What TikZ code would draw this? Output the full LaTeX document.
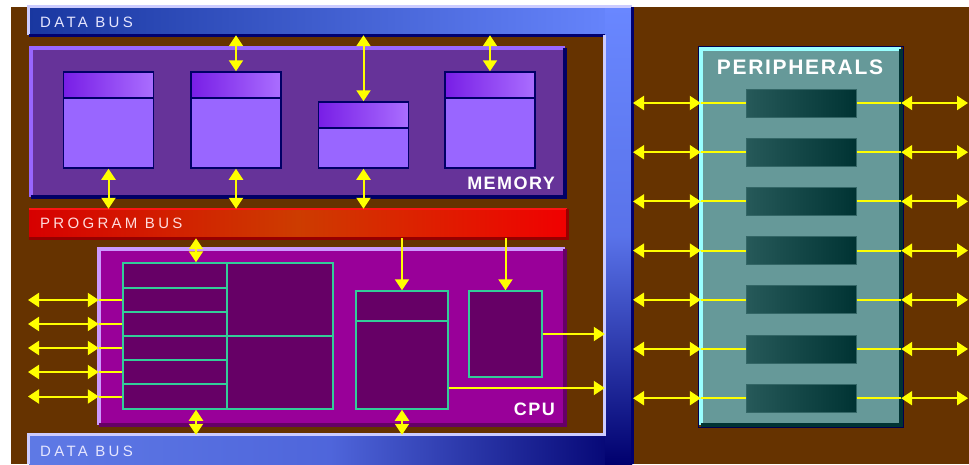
\documentclass[tikz,border=0pt]{standalone}
\usepackage{fontspec}
\setmainfont{Liberation Sans}
\newfontfamily\busfont[LetterSpace=22]{Liberation Sans}
\newfontfamily\tagfont[LetterSpace=8]{Liberation Sans}
\usepackage{tikz}
\usetikzlibrary{arrows.meta}
\definecolor{Brown}{RGB}{102,51,0}
\definecolor{BusDeep}{RGB}{25,55,160}
\definecolor{BusSky}{RGB}{105,135,255}
\definecolor{BusNavy}{RGB}{0,0,110}
\definecolor{BusLite}{RGB}{204,204,255}
\definecolor{BusText}{RGB}{230,230,255}
\definecolor{MemFill}{RGB}{102,51,153}
\definecolor{MemEdge}{RGB}{153,102,255}
\definecolor{MemNavy}{RGB}{0,0,102}
\definecolor{CellFill}{RGB}{153,102,255}
\definecolor{HeadDeep}{RGB}{120,30,230}
\definecolor{HeadPale}{RGB}{170,110,255}
\definecolor{ProgLeft}{RGB}{215,0,0}
\definecolor{ProgMid}{RGB}{205,60,0}
\definecolor{ProgRight}{RGB}{240,0,0}
\definecolor{ProgLite}{RGB}{255,20,20}
\definecolor{ProgShadow}{RGB}{150,0,0}
\definecolor{ProgText}{RGB}{255,220,220}
\definecolor{CpuFill}{RGB}{153,0,153}
\definecolor{CpuEdge}{RGB}{204,153,255}
\definecolor{CpuShadow}{RGB}{102,0,102}
\definecolor{BlkFill}{RGB}{102,0,102}
\definecolor{BlkEdge}{RGB}{51,204,153}
\definecolor{PerFill}{RGB}{102,153,153}
\definecolor{PerEdge}{RGB}{153,255,255}
\definecolor{PerShadow}{RGB}{0,51,51}
\definecolor{PerNavy}{RGB}{0,0,80}
\definecolor{SlotDark}{RGB}{0,51,51}
\definecolor{SlotLite}{RGB}{51,102,102}
\definecolor{SigYellow}{RGB}{255,255,0}

\begin{document}
\begin{tikzpicture}[x=1pt, y=-1pt,
    bus/.style={rectangle, inner sep=0pt, draw=none},
    panel/.style={rectangle, inner sep=0pt, draw=none},
    bevel/.style={line width=4pt},
    rim/.style={line width=3pt},
    cell/.style={rectangle, inner sep=0pt, draw=MemNavy, line width=1.5pt,
                 fill=CellFill, minimum width=90pt},
    cellhead/.style={rectangle, inner sep=0pt, draw=MemNavy, line width=1.5pt,
                     left color=HeadDeep, right color=HeadPale,
                     minimum width=90pt, minimum height=26pt},
    blk/.style={rectangle, inner sep=0pt, draw=BlkEdge, line width=1.5pt,
                fill=BlkFill},
    slot/.style={rectangle, inner sep=0pt, draw=SlotLite, line width=1pt,
                 left color=SlotLite!75!SlotDark, right color=SlotDark,
                 minimum width=110pt, minimum height=28pt},
    buslabel/.style={font=\busfont\fontsize{15}{15}\selectfont,
                     anchor=west, inner sep=0pt},
    tag/.style={font=\tagfont\bfseries\fontsize{18}{18}\selectfont,
                text=white, inner sep=0pt},
    yline/.style={line width=2pt, SigYellow},
    arr/.style={-{Triangle[length=11pt,width=14pt]}, yline},
    dblarr/.style={{Triangle[length=11pt,width=14pt]}-{Triangle[length=11pt,width=14pt]},
                   yline}
  ]
  \useasboundingbox (0,0) rectangle (969,464);
  \fill[white] (0,0) rectangle (969,464);
  \fill[Brown] (11,7) rectangle (969,464);

  % Data bus
  \node[bus, minimum width=603pt, minimum height=28pt,
        left color=BusDeep, right color=BusSky] (dbtop) at (330.5,21) {};
  \node[bus, minimum width=603pt, minimum height=29pt,
        left color=BusSky!90!black, right color=BusNavy,
        middle color=BusSky!75!BusNavy] (dbbot) at (330.5,449.5) {};
  \node[bus, minimum width=27pt, minimum height=457pt,
        top color=BusSky, bottom color=BusNavy,
        middle color=BusSky!85!BusNavy] (dbright) at (618.5,235.5) {};
  \draw[rim, BusLite] (dbtop.south west) -- (dbtop.north west) -- (dbtop.north east);
  \draw[rim, BusNavy] (dbtop.south west) -- (dbtop.south -| dbright.west);
  \draw[rim, BusLite] (dbright.west |- dbtop.south) -- (dbright.west |- dbbot.north)
        -- (dbbot.north west) -- (dbbot.south west);
  \draw[rim, BusNavy] (dbright.north east) -- (dbright.south east);
  \node[buslabel, text=BusText] (dbtext1) at (40,22.5) {DATA BUS};
  \node[buslabel, text=BusText] (dbtext2) at (40,451.5) {DATA BUS};

  % Memory
  \node[panel, fill=MemFill, minimum width=534pt, minimum height=149pt] (mem) at (298,122.5) {};
  \draw[bevel, MemEdge] (mem.south west) -- (mem.north west) -- (mem.north east);
  \draw[bevel, MemNavy] (mem.north east) -- (mem.south east) -- (mem.south west);
  \foreach \n/\x/\y/\h in {1/108.5/120/96pt, 2/236/120/96pt, 3/363.5/135/66pt, 4/490/120/96pt}{
    \node[cell, minimum height=\h] (m\n) at (\x,\y) {};
    \node[cellhead, anchor=north] (h\n) at (m\n.north) {};
  }
  \node[tag, anchor=east] (memtext) at (555,183.5) {MEMORY};

  % Program bus
  \node[bus, minimum width=538pt, minimum height=29pt,
        left color=ProgLeft, right color=ProgRight, middle color=ProgMid] (pbus) at (298,223.5) {};
  \draw[line width=2pt, ProgLite] (pbus.north west) -- (pbus.north east);
  \draw[rim, ProgShadow] (pbus.north east) -- (pbus.south east) -- (pbus.south west);
  \node[buslabel, text=ProgText] (pbtext) at (40,223.5) {PROGRAM BUS};

  % CPU
  \node[panel, fill=CpuFill, minimum width=466pt, minimum height=176pt] (cpu) at (332,337) {};
  \draw[bevel, CpuEdge] (cpu.south west) -- (cpu.north west) -- (cpu.north east);
  \draw[bevel, CpuShadow] (cpu.north east) -- (cpu.south east) -- (cpu.south west);
  \foreach \i/\y/\h in {1/275.5/25pt, 2/300/24pt, 3/324/24pt, 4/348/24pt, 5/372/24pt, 6/396.5/25pt}
    \node[blk, minimum width=104pt, minimum height=\h] (r\i) at (175,\y) {};
  \node[blk, minimum width=106pt, minimum height=73pt] (b1) at (280,299.5) {};
  \node[blk, minimum width=106pt, minimum height=73pt] (b2) at (280,372.5) {};
  \node[blk, minimum width=92pt, minimum height=30pt] (mt) at (402,306) {};
  \node[blk, minimum width=92pt, minimum height=88pt] (mb) at (402,365) {};
  \node[blk, minimum width=73pt, minimum height=86pt] (rb) at (505.5,334) {};
  \node[tag, anchor=east] (cputext) at (555,409.5) {CPU};

  % Peripherals
  \node[panel, fill=PerFill, minimum width=200pt, minimum height=376pt] (per) at (801,237) {};
  \draw[PerNavy, line width=1pt] ([shift={(-2.5pt,2.5pt)}]per.north west) rectangle ([shift={(2.5pt,-2.5pt)}]per.south east);
  \draw[bevel, PerEdge] (per.south west) -- (per.north west) -- (per.north east);
  \draw[bevel, PerShadow] (per.north east) -- (per.south east) -- (per.south west);
  \node[tag, font=\tagfont\bfseries\fontsize{21}{21}\selectfont] (pertext) at (800,67) {PERIPHERALS};

  % Bus arrows
  \foreach \n in {2,3,4}
    \draw[dblarr] (h\n.north) -- (h\n.north |- dbtop.south);
  \foreach \n in {1,2,3}
    \draw[dblarr] (m\n.south) -- (m\n.south |- pbus.north);
  \draw[dblarr] ([xshift=21pt]r1.north) -- ([xshift=21pt]r1.north |- pbus.south);
  \draw[dblarr] ([xshift=21pt]r6.south) -- ([xshift=21pt]r6.south |- dbbot.north);
  \draw[dblarr] (mb.south) -- (mb.south |- dbbot.north);
  \draw[arr] (mt.north |- pbus.south) -- (mt.north);
  \draw[arr] (rb.north |- pbus.south) -- (rb.north);
  \draw[arr] (rb.east) -- (rb.east -| dbright.west);
  \draw[arr] ([yshift=-23pt]mb.east) -- ([yshift=-23pt]mb.east -| dbright.west);

  % CPU ports
  \coordinate (cpuio) at (28,0);
  \foreach \i in {2,...,6}{
    \draw[yline] (r\i.west) -- (r\i.west -| cpu.west);
    \draw[dblarr] (r\i.west -| cpu.west) -- (r\i.west -| cpuio);
  }

  % Peripheral slots
  \coordinate (perin) at (633,0);
  \coordinate (perout) at (968,0);
  \foreach \i in {1,...,7}{
    \node[slot] (s\i) at (801,53.8+49.2*\i) {};
    \draw[yline] (s\i.west) -- (s\i.west -| per.west);
    \draw[dblarr] (s\i.west -| per.west) -- (s\i.west -| perin);
    \draw[yline] (s\i.east) -- (s\i.east -| per.east);
    \draw[dblarr] (s\i.east -| per.east) -- (s\i.east -| perout);
  }
\end{tikzpicture}
\end{document}
